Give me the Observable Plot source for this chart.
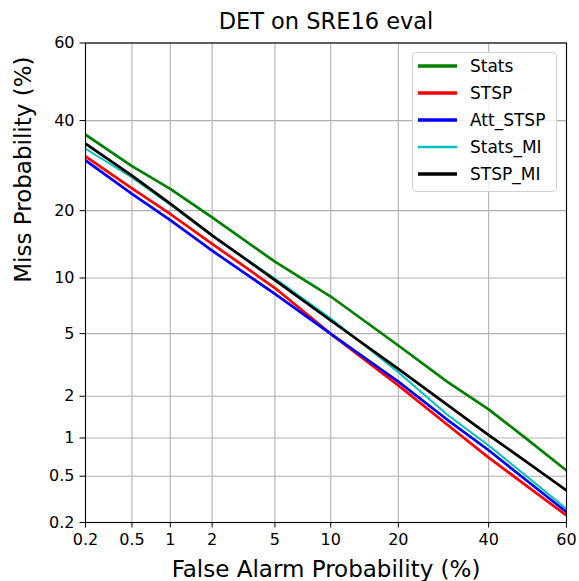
<!DOCTYPE html>
<html>
<head>
<meta charset="utf-8">
<script src="https://cdn.jsdelivr.net/npm/d3@7"></script>
<script src="https://cdn.jsdelivr.net/npm/@observablehq/plot@0.6"></script>
<style>
  body { margin: 0; background: #fff; font-family: "DejaVu Sans", sans-serif; }
  #wrap { position: relative; width: 579px; height: 581px; }
  #legend { position: absolute; box-sizing: border-box; border: 1px solid #d0d0d0; border-radius: 4px;
            background: rgba(255,255,255,0.8); font-family: "DejaVu Sans", sans-serif; color: #000; }
  #legend .row { position: absolute; left: 0; height: 20px; display: flex; align-items: center; }
  #legend .sw { display: inline-block; margin-left: 5px; width: 39px; }
  #legend .lb { margin-left: 13px; font-size: 17px; white-space: nowrap; }
</style>
</head>
<body>
<div id="wrap"></div>
<script>
// ---- data (percent) ----
const title = "DET on SRE16 eval";
const xLabel = "False Alarm Probability (%)";
const yLabel = "Miss Probability (%)";
const tickValues = [0.2, 0.5, 1, 2, 5, 10, 20, 40, 60];
const tickLabels = ["0.2", "0.5", "1", "2", "5", "10", "20", "40", "60"];
const falseAlarm = [0.2, 0.5, 1, 2, 5, 10, 20, 30, 40, 50, 60];
const seriesNames = ["Stats", "STSP", "Att_STSP", "Stats_MI", "STSP_MI"];
const seriesColors = ["#008000", "#ff0000", "#0000ff", "#00bfbf", "#000000"];
const missStats    = [36.5, 29.1, 24.2, 18.8, 12.0, 8.04, 4.25, 2.51, 1.62, 0.973, 0.556];
const missSTSP     = [31.3, 24.3, 19.4, 14.5, 8.9, 4.99, 2.37, 1.26, 0.706, 0.41, 0.231];
const missAttSTSP  = [30.4, 23.2, 18.3, 13.5, 8.3, 4.99, 2.51, 1.37, 0.806, 0.454, 0.248];
const missStatsMI  = [33.1, 26.6, 21.1, 15.7, 9.94, 6.10, 2.89, 1.49, 0.876, 0.492, 0.264];
const missSTSPMI   = [34.3, 27.0, 21.3, 15.8, 9.77, 5.95, 3.04, 1.75, 1.05, 0.645, 0.38];
const seriesValues = [missStats, missSTSP, missAttSTSP, missStatsMI, missSTSPMI];
const seriesWidths = [2.7, 2.7, 2.7, 2.0, 2.7];

// inverse standard normal CDF (Acklam)
function probit(p) {
  const a=[-3.969683028665376e+01,2.209460984245205e+02,-2.759285104469687e+02,1.383577518672690e+02,-3.066479806614716e+01,2.506628277459239e+00];
  const b=[-5.447609879822406e+01,1.615858368580409e+02,-1.556989798598866e+02,6.680131188771972e+01,-1.328068155288572e+01];
  const c=[-7.784894002430293e-03,-3.223964580411365e-01,-2.400758277161838e+00,-2.549732539343734e+00,4.374664141464968e+00,2.938163982698783e+00];
  const d=[7.784695709041462e-03,3.224671290700398e-01,2.445134137142996e+00,3.754408661907416e+00];
  const pl = 0.02425, ph = 1 - pl;
  let q, r;
  if (p < pl) { q = Math.sqrt(-2*Math.log(p)); return (((((c[0]*q+c[1])*q+c[2])*q+c[3])*q+c[4])*q+c[5])/((((d[0]*q+d[1])*q+d[2])*q+d[3])*q+1); }
  if (p <= ph) { q = p-0.5; r = q*q; return (((((a[0]*r+a[1])*r+a[2])*r+a[3])*r+a[4])*r+a[5])*q/(((((b[0]*r+b[1])*r+b[2])*r+b[3])*r+b[4])*r+1); }
  q = Math.sqrt(-2*Math.log(1-p)); return -(((((c[0]*q+c[1])*q+c[2])*q+c[3])*q+c[4])*q+c[5])/((((d[0]*q+d[1])*q+d[2])*q+d[3])*q+1);
}
const P = v => probit(v / 100);
const tickPos = tickValues.map(P);
const labelOf = new Map(tickPos.map((t, i) => [t, tickLabels[i]]));
const fmt = t => labelOf.get(t) ?? "";

const lineMarks = seriesNames.map((name, i) =>
  Plot.line(falseAlarm.map((fa, j) => ({x: P(fa), y: P(seriesValues[i][j]), s: name})), {
    x: "x", y: "y", stroke: seriesColors[i], strokeWidth: seriesWidths[i],
    strokeLinejoin: "round", strokeLinecap: "butt", clip: true
  })
);

const chart = Plot.plot({
  width: 579, height: 581,
  marginLeft: 85, marginRight: 13, marginTop: 42.5, marginBottom: 59,
  style: { fontFamily: "DejaVu Sans, sans-serif", background: "#fff", color: "#000" },
  x: { type: "linear", domain: [P(0.2), P(60)] },
  y: { type: "linear", domain: [P(0.2), P(60)] },
  marks: [
    Plot.gridX(tickPos, { stroke: "#b0b0b0", strokeOpacity: 1, strokeWidth: 1.1 }),
    Plot.gridY(tickPos, { stroke: "#b0b0b0", strokeOpacity: 1, strokeWidth: 1.1 }),
    ...lineMarks,
    Plot.frame({ stroke: "#000", strokeWidth: 1.1 }),
    Plot.axisX(tickPos, { tickFormat: fmt, tickSize: 5.5, tickPadding: 6, fontSize: 16, label: null }),
    Plot.axisY(tickPos, { tickFormat: fmt, tickSize: 5.5, tickPadding: 5.5, fontSize: 16, label: null }),
    Plot.text([title], { frameAnchor: "top", lineAnchor: "middle", dy: -21, fontSize: 22.5, fill: "#000" }),
    Plot.text([xLabel], { frameAnchor: "bottom", lineAnchor: "middle", dy: 47, fontSize: 23, fill: "#000" }),
    Plot.text([yLabel], { frameAnchor: "left", lineAnchor: "middle", dx: -62, rotate: -90, fontSize: 23, fill: "#000" })
  ]
});

const wrap = document.getElementById("wrap");
wrap.appendChild(chart);

// legend
const lg = document.createElement("div");
lg.id = "legend";
lg.style.left = "412px"; lg.style.top = "52px"; lg.style.width = "145px"; lg.style.height = "140px";
seriesNames.forEach((name, i) => {
  const row = document.createElement("div");
  row.className = "row";
  row.style.top = (3 + i * 27) + "px";
  row.innerHTML = `<svg class="sw" width="39" height="20"><line x1="0" x2="39" y1="10" y2="10" stroke="${seriesColors[i]}" stroke-width="${seriesWidths[i] + 0.6}"/></svg><span class="lb">${name}</span>`;
  lg.appendChild(row);
});
wrap.appendChild(lg);
</script>
</body>
</html>
